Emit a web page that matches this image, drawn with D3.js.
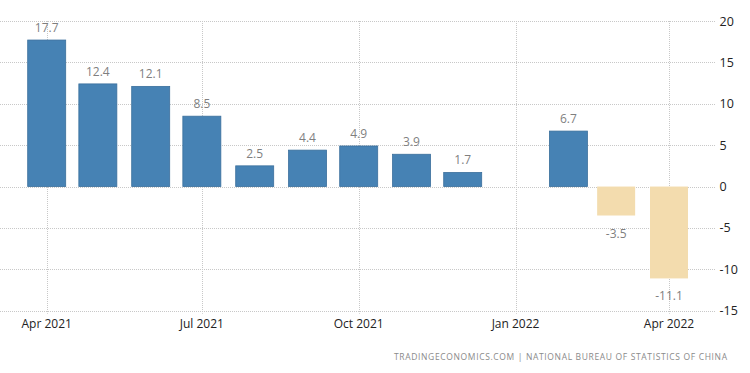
<!DOCTYPE html>
<html>
<head>
<meta charset="utf-8">
<script src="https://cdn.jsdelivr.net/npm/d3@7"></script>
<style>
  html, body { margin: 0; padding: 0; background: #fff; }
  svg { display: block; }
  text { font-family: "Open Sans", "DejaVu Sans", sans-serif; }
</style>
</head>
<body>
<svg id="chart" width="750" height="373"></svg>
<script>
// ---- data ----
const months = ["2021-04","2021-05","2021-06","2021-07","2021-08","2021-09","2021-10","2021-11","2021-12","2022-02","2022-03","2022-04"];
const values = [17.7, 12.4, 12.1, 8.5, 2.5, 4.4, 4.9, 3.9, 1.7, 6.7, -3.5, -11.1];
const xTickDates = ["2021-04","2021-07","2021-10","2022-01","2022-04"];
const xTickLabels = ["Apr 2021","Jul 2021","Oct 2021","Jan 2022","Apr 2022"];
const yTicks = [20, 15, 10, 5, 0, -5, -10, -15];
const sourceText = "TRADINGECONOMICS.COM  |  NATIONAL BUREAU OF STATISTICS OF CHINA";

// ---- layout ----
const parse = s => { const [y, m] = s.split("-").map(Number); return new Date(Date.UTC(y, m - 1, 1)); };
const gridLeft = 0, gridRight = 716;
const x = d3.scaleUtc().domain([parse("2021-04"), parse("2022-04")]).range([46.7, 669]);
const y = d3.scaleLinear().domain([-15, 20]).range([310.7, 21]);
const barW = 38;

const svg = d3.select("#chart");

// horizontal grid
svg.append("g").selectAll("line").data(yTicks).join("line")
  .attr("x1", gridLeft).attr("x2", gridRight)
  .attr("y1", d => Math.round(y(d)) + 0.5).attr("y2", d => Math.round(y(d)) + 0.5)
  .attr("stroke", "#c8c8c8").attr("stroke-width", 1).attr("stroke-dasharray", "1,1");

// vertical grid
svg.append("g").selectAll("line").data(xTickDates).join("line")
  .attr("x1", d => Math.round(x(parse(d))) + 0.5).attr("x2", d => Math.round(x(parse(d))) + 0.5)
  .attr("y1", y(20)).attr("y2", y(-15) + 3)
  .attr("stroke", "#c8c8c8").attr("stroke-width", 1).attr("stroke-dasharray", "1,1");

// bars
const data = months.map((m, i) => ({ date: parse(m), v: values[i] }));
svg.append("g").selectAll("rect").data(data).join("rect")
  .attr("x", d => x(d.date) - barW / 2)
  .attr("width", barW)
  .attr("y", d => d.v >= 0 ? y(d.v) : y(0))
  .attr("height", d => Math.abs(y(d.v) - y(0)))
  .attr("fill", d => d.v >= 0 ? "#4682b4" : "#f3dcae")
  .attr("stroke", d => d.v >= 0 ? "#3b6f9c" : "none")
  .attr("stroke-width", 0.8);

// value labels
svg.append("g").selectAll("text").data(data).join("text")
  .attr("x", d => x(d.date))
  .attr("y", d => d.v >= 0 ? y(d.v) - 8 : y(d.v) + 22)
  .attr("text-anchor", "middle")
  .attr("font-size", 12)
  .attr("fill", "#7f7f7f")
  .text(d => d.v.toFixed(1));

// y axis labels (right)
svg.append("g").selectAll("text").data(yTicks).join("text")
  .attr("x", 719.5)
  .attr("y", d => y(d))
  .attr("dy", "0.36em")
  .attr("font-size", 12.5)
  .attr("fill", "#222")
  .text(d => d);

// x axis labels
svg.append("g").selectAll("text").data(xTickDates).join("text")
  .attr("x", d => x(parse(d)))
  .attr("y", 328)
  .attr("text-anchor", "middle")
  .attr("font-size", 12)
  .attr("fill", "#222")
  .text((d, i) => xTickLabels[i]);

// source
svg.append("text")
  .attr("x", 727).attr("y", 360)
  .attr("text-anchor", "end")
  .attr("font-size", 8.5)
  .attr("fill", "#8a8a8a")
  .attr("textLength", 333).attr("lengthAdjust", "spacing")
  .text(sourceText);
</script>
</body>
</html>
